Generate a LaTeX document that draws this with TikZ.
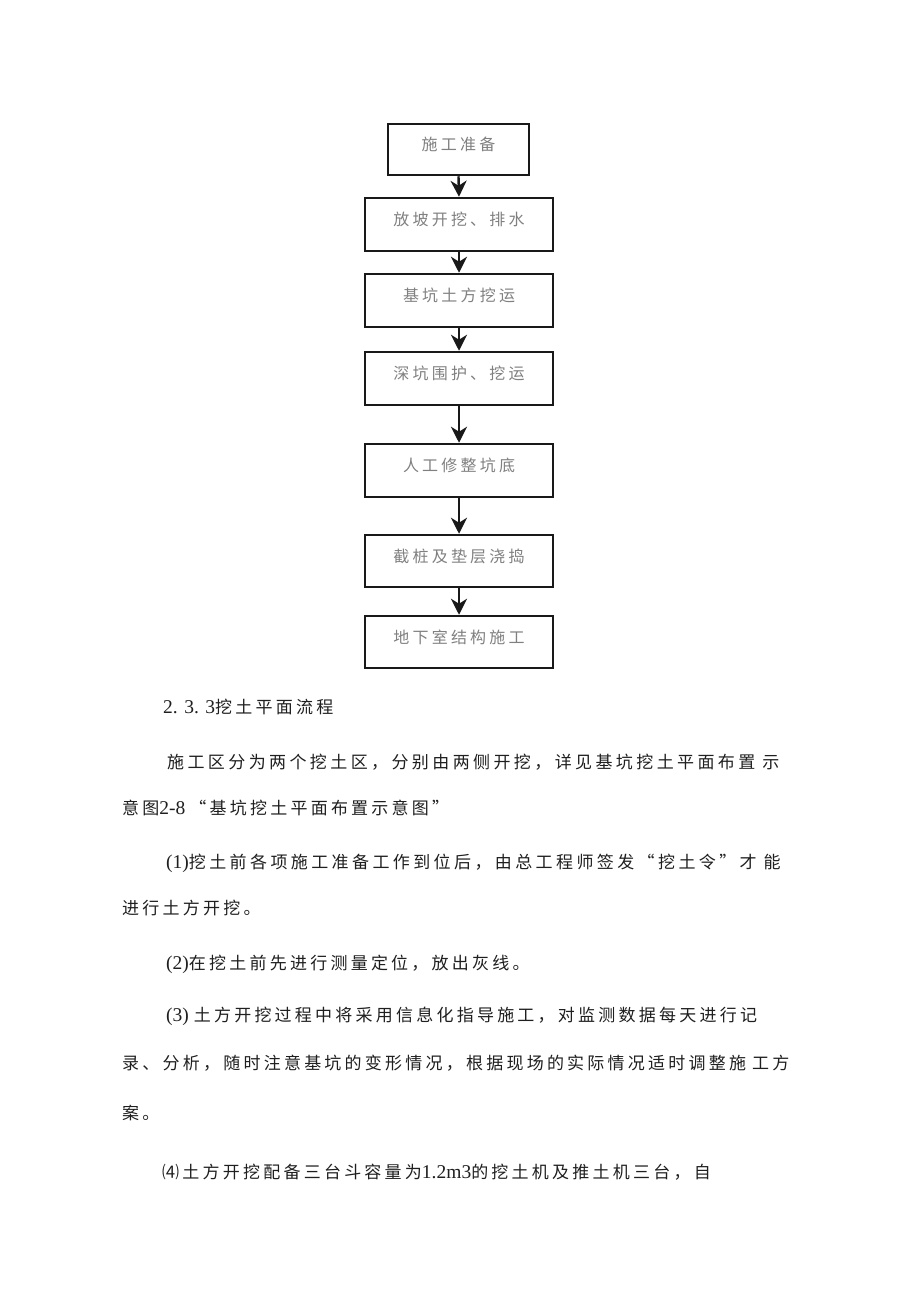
\documentclass[tikz,border=0pt]{standalone}
\usepackage{fontspec}
\setmainfont{Liberation Serif}
\newfontfamily\cjk{Noto Sans CJK SC}[LetterSpace=19]
\newfontfamily\cjkw{Noto Sans CJK SC}[LetterSpace=20]
\newfontfamily\cjkb{Noto Sans CJK SC}[LetterSpace=20]
\newfontfamily\latf{Liberation Serif}
\newcommand\lt[1]{{\latf\fontsize{19.5pt}{20pt}\selectfont #1}}
\usetikzlibrary{arrows.meta}
\begin{document}
\begin{tikzpicture}[x=1pt,y=-1pt,
  fbox/.style={draw=black!90, line width=2.5pt, inner sep=0pt, minimum width=188pt, minimum height=53pt,
    text height=14pt, text depth=11.8pt, font=\cjkb\fontsize{16pt}{18pt}\selectfont, text=black!50},
  arr/.style={draw=black!90, line width=2.4pt, -{Stealth[length=16pt,width=16pt,inset=5pt]}},
  bodytxt/.style={anchor=base west, inner sep=0pt, font=\cjk\fontsize{17pt}{20pt}\selectfont, text=black!88},
  widetxt/.style={bodytxt, font=\cjkw\fontsize{17pt}{20pt}\selectfont}]
\useasboundingbox (0,0) rectangle (920,1301);
\fill[white] (0,0) rectangle (920,1301);

% flow chart
\node[fbox, minimum width=141pt, minimum height=51pt] (b1) at (458.5,149.5) {施工准备};
\node[fbox] (b2) at (459,224.5) {放坡开挖、排水};
\node[fbox] (b3) at (459,300.5) {基坑土方挖运};
\node[fbox] (b4) at (459,378.5) {深坑围护、挖运};
\node[fbox] (b5) at (459,470.5) {人工修整坑底};
\node[fbox, minimum height=52pt] (b6) at (459,561) {截桩及垫层浇捣};
\node[fbox, minimum height=52pt] (b7) at (459,642) {地下室结构施工};

\draw[arr] (b1.south) -- (b2.north);
\draw[arr] (b2.south) -- (b3.north);
\draw[arr] (b3.south) -- (b4.north);
\draw[arr] (b4.south) -- (b5.north);
\draw[arr] (b5.south) -- (b6.north);
\draw[arr] (b6.south) -- (b7.north);

% body text
\node[bodytxt] (l0) at (163,713.5) {\lt{2. 3. 3}挖土平面流程};
\node[widetxt] (l1) at (167,768.5) {施工区分为两个挖土区，分别由两侧开挖，详见基坑挖土平面布置\hspace{7pt}示};
\node[bodytxt] (l2) at (122,814.5) {意图\lt{2-8}\hspace{4pt}“基坑挖土平面布置示意图”};
\node[widetxt] (l3) at (166,868.5) {\lt{(1)}挖土前各项施工准备工作到位后，由总工程师签发“挖土令”才\hspace{7pt}能};
\node[bodytxt] (l4) at (122,914.5) {进行土方开挖。};
\node[bodytxt] (l5) at (166,969.5) {\lt{(2)}在挖土前先进行测量定位，放出灰线。};
\node[bodytxt] (l6) at (166,1021.5) {\lt{(3) }土方开挖过程中将采用信息化指导施工，对监测数据每天进行记};
\node[bodytxt] (l7) at (122,1069.5) {录、分析，随时注意基坑的变形情况，根据现场的实际情况适时调整施\hspace{6pt}工方};
\node[bodytxt] (l8) at (122,1119.5) {案。};
\node[bodytxt] (l9) at (162,1178.5) {⑷土方开挖配备三台斗容量为\lt{1.2m3}的挖土机及推土机三台，自};
\end{tikzpicture}
\end{document}
